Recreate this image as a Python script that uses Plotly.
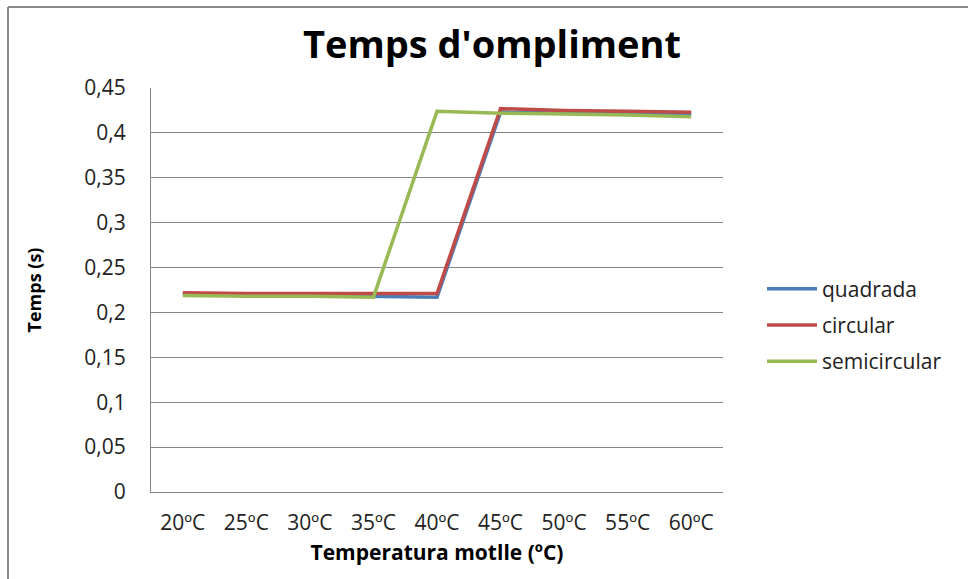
import plotly.graph_objects as go

categories = ["20ºC", "25ºC", "30ºC", "35ºC", "40ºC", "45ºC", "50ºC", "55ºC", "60ºC"]
quadrada = [0.220, 0.219, 0.219, 0.218, 0.217, 0.423, 0.422, 0.421, 0.421]
circular = [0.222, 0.221, 0.221, 0.221, 0.221, 0.427, 0.425, 0.424, 0.423]
semicircular = [0.219, 0.218, 0.218, 0.217, 0.424, 0.422, 0.421, 0.420, 0.418]

series = [
    ("quadrada", quadrada, "#4A7EBB"),
    ("circular", circular, "#BE4B48"),
    ("semicircular", semicircular, "#98B954"),
]

fig = go.Figure()
for name, vals, color in series:
    fig.add_trace(go.Scatter(
        x=categories, y=vals, name=name, mode="lines", legendgroup=name,
        line=dict(color=color, width=3.5),
    ))

font_family = "Open Sans, Noto Sans, sans-serif"
L, R, T, B = 151, 245, 88, 87
W, H = 968, 579
pw, ph = W - L - R, H - T - B

fig.update_layout(
    width=W, height=H,
    margin=dict(l=L, r=R, t=T, b=B),
    paper_bgcolor="white", plot_bgcolor="white",
    separators=",.",
    font=dict(family=font_family, size=21, color="#222"),
    title=dict(text="<b>Temps d'ompliment</b>", x=(492 - L) / pw, xref="paper",
               xanchor="center", y=1 - 45 / H, yanchor="middle",
               font=dict(size=38, color="black", family=font_family)),
    showlegend=True,
    legend=dict(x=(762 - L) / pw, xanchor="left", y=(492 - 325) / ph, yanchor="middle",
                font=dict(size=21, color="#222"), bgcolor="rgba(0,0,0,0)",
                tracegroupgap=6, itemwidth=50),
    xaxis=dict(
        type="category", range=[-0.5, 8.5], showgrid=False,
        showline=True, linecolor="#868686", linewidth=1,
        ticks="", ticklabelstandoff=12,
        tickfont=dict(size=21, color="#222"),
        title=dict(text="<b>Temperatura motlle (ºC)</b>", standoff=10,
                   font=dict(size=21, color="black")),
    ),
    yaxis=dict(
        range=[0, 0.45], dtick=0.05, tick0=0,
        showgrid=True, gridcolor="#868686", gridwidth=1,
        showline=True, linecolor="#868686", linewidth=1,
        zeroline=False, ticks="", ticklabelstandoff=20,
        tickfont=dict(size=21, color="#222"),
        title=dict(text="<b>Temps (s)</b>", standoff=38,
                   font=dict(size=18, color="black")),
    ),
    shapes=[
        dict(type="line", xref="paper", yref="paper",
             x0=(8 - L) / pw, x1=(968 - L) / pw, y0=(492 - 7) / ph, y1=(492 - 7) / ph,
             line=dict(color="#8a8a8a", width=2)),
        dict(type="line", xref="paper", yref="paper",
             x0=(8 - L) / pw, x1=(8 - L) / pw, y0=(492 - 7) / ph, y1=(492 - 579) / ph,
             line=dict(color="#8a8a8a", width=2)),
    ],
)

fig.write_html("out.html")
